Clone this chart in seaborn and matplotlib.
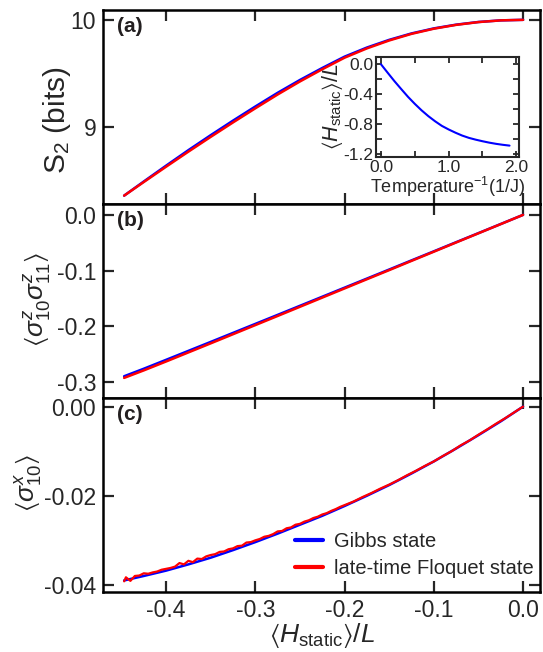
import numpy as np
import pandas as pd
import matplotlib
matplotlib.use("Agg")
import matplotlib.pyplot as plt
from matplotlib.ticker import FixedLocator
import seaborn as sns

# ---- data -------------------------------------------------------------
# energy density grid for the smooth curves
energy = [-0.447, -0.425, -0.400, -0.375, -0.350, -0.325, -0.300, -0.275,
          -0.250, -0.225, -0.200, -0.175, -0.150, -0.125, -0.100, -0.075,
          -0.050, -0.025, 0.000]

# (a) second Renyi entropy of half chain
s2_gibbs = [8.357, 8.489, 8.637, 8.782, 8.922, 9.058, 9.190, 9.318, 9.438,
            9.550, 9.656, 9.741, 9.813, 9.873, 9.920, 9.955, 9.980, 9.995,
            10.000]
s2_floquet = [8.357, 8.484, 8.627, 8.768, 8.906, 9.041, 9.173, 9.302, 9.424,
              9.538, 9.646, 9.733, 9.807, 9.869, 9.917, 9.953, 9.979, 9.995,
              10.000]

# (b) nearest-neighbour zz correlator
zz_gibbs = [-0.2900, -0.2765, -0.2605, -0.2444, -0.2283, -0.2121, -0.1959,
            -0.1797, -0.1634, -0.1471, -0.1308, -0.1145, -0.0982, -0.0818,
            -0.0655, -0.0491, -0.0328, -0.0164, 0.0000]
zz_floquet = [-0.2930, -0.2795, -0.2635, -0.2472, -0.2309, -0.2145, -0.1981,
              -0.1817, -0.1652, -0.1487, -0.1322, -0.1157, -0.0993, -0.0827,
              -0.0662, -0.0496, -0.0331, -0.0166, 0.0000]

# (c) transverse magnetisation
x_gibbs = [-0.0390, -0.0380, -0.0368, -0.0354, -0.0339, -0.0322, -0.0304,
           -0.0285, -0.0265, -0.0245, -0.0223, -0.0200, -0.0176, -0.0150,
           -0.0123, -0.0094, -0.0064, -0.0033, 0.0000]

energy_fl = [-0.447, -0.445, -0.440, -0.435, -0.430, -0.425, -0.420, -0.415,
             -0.410, -0.405, -0.400, -0.395, -0.390, -0.385, -0.380, -0.375,
             -0.370, -0.365, -0.360, -0.355, -0.350, -0.345, -0.340, -0.335,
             -0.330, -0.325, -0.320, -0.315, -0.310, -0.305, -0.300, -0.295,
             -0.290, -0.285, -0.280, -0.275, -0.270, -0.265, -0.260, -0.255,
             -0.250, -0.245, -0.240, -0.235, -0.230, -0.225, -0.220, -0.215,
             -0.210, -0.205, -0.200, -0.190, -0.180, -0.170, -0.160, -0.150,
             -0.140, -0.130, -0.120, -0.110, -0.100, -0.090, -0.080, -0.070,
             -0.060, -0.050, -0.040, -0.030, -0.020, -0.010, 0.000]
x_floquet = [-0.0392, -0.0383, -0.0391, -0.0380, -0.0379, -0.0374, -0.0375,
             -0.0372, -0.0370, -0.0366, -0.0364, -0.0362, -0.0359, -0.0351,
             -0.0354, -0.0346, -0.0349, -0.0341, -0.0342, -0.0336, -0.0333,
             -0.0331, -0.0326, -0.0325, -0.0320, -0.0318, -0.0313, -0.0312,
             -0.0305, -0.0304, -0.0300, -0.0297, -0.0292, -0.0290, -0.0286,
             -0.0280, -0.0279, -0.0273, -0.0271, -0.0265, -0.0263, -0.0258,
             -0.0255, -0.0250, -0.0247, -0.0242, -0.0239, -0.0234, -0.0230,
             -0.0225, -0.0221, -0.0213, -0.0203, -0.0194, -0.0184, -0.0175,
             -0.0165, -0.0154, -0.0144, -0.0133, -0.0123, -0.0111, -0.0100,
             -0.0087, -0.0076, -0.0063, -0.0051, -0.0038, -0.0026, -0.0013,
             0.0000]

# inset: energy density versus inverse temperature
beta = [0.0, 0.1, 0.2, 0.3, 0.4, 0.5, 0.6, 0.7, 0.8, 0.9, 1.0, 1.1, 1.2,
        1.3, 1.4, 1.5, 1.6, 1.7, 1.8, 1.9]
energy_beta = [0.000, -0.115, -0.228, -0.334, -0.438, -0.532, -0.619, -0.697,
               -0.766, -0.828, -0.876, -0.919, -0.958, -0.989, -1.013, -1.034,
               -1.053, -1.069, -1.082, -1.093]

x_ticks = [-0.4, -0.3, -0.2, -0.1, 0.0]
x_ticklabels = ["-0.4", "-0.3", "-0.2", "-0.1", "0.0"]

# ---- style ------------------------------------------------------------
sns.set_style("ticks")
plt.rcParams["font.family"] = ["Liberation Sans", "DejaVu Sans"]
plt.rcParams["mathtext.fontset"] = "custom"
plt.rcParams["mathtext.rm"] = "Liberation Sans"
plt.rcParams["mathtext.it"] = "Liberation Sans:italic"
plt.rcParams["mathtext.bf"] = "Liberation Sans:bold"
plt.rcParams["mathtext.fallback"] = "stixsans"
plt.rcParams["axes.unicode_minus"] = False

BLUE = "#0000ff"
RED = "#ff0000"
LW = 1.8

fig, axes = plt.subplots(3, 1, sharex=True, figsize=(5.43, 6.52), dpi=100,
                         gridspec_kw=dict(hspace=0))
fig.subplots_adjust(left=0.19, right=0.9945, top=0.985, bottom=0.092)
ax_a, ax_b, ax_c = axes

df = pd.DataFrame(dict(E=energy, s2g=s2_gibbs, s2f=s2_floquet,
                       zzg=zz_gibbs, zzf=zz_floquet, xg=x_gibbs))
df_fl = pd.DataFrame(dict(E=energy_fl, xf=x_floquet))
df_in = pd.DataFrame(dict(beta=beta, E=energy_beta))

sns.lineplot(data=df, x="E", y="s2g", ax=ax_a, color=BLUE, lw=LW, legend=False)
sns.lineplot(data=df, x="E", y="s2f", ax=ax_a, color=RED, lw=LW, legend=False)
sns.lineplot(data=df, x="E", y="zzg", ax=ax_b, color=BLUE, lw=LW, legend=False)
sns.lineplot(data=df, x="E", y="zzf", ax=ax_b, color=RED, lw=LW, legend=False)
sns.lineplot(data=df, x="E", y="xg", ax=ax_c, color=BLUE, lw=LW,
             label="Gibbs state")
sns.lineplot(data=df_fl, x="E", y="xf", ax=ax_c, color=RED, lw=1.6,
             label="late-time Floquet state")

for ax in axes:
    ax.tick_params(which="both", direction="in", top=True, right=True,
                   length=8, width=1.6, labelsize=16.5, pad=5)
    for sp in ax.spines.values():
        sp.set_linewidth(1.8)
        sp.set_color("black")
    ax.set_xlim(-0.4705, 0.019)
    ax.set_xlabel("")

ax_c.set_xticks(x_ticks)
ax_c.set_xticklabels(x_ticklabels)

ax_a.set_ylim(8.28, 10.094)
ax_a.set_yticks([9, 10])
ax_a.set_yticklabels(["9", "10"])
ax_a.set_ylabel("S$_2$ (bits)", fontsize=21.5)
ax_a.yaxis.set_label_coords(-0.068, 0.43)

ax_b.set_ylim(-0.329, 0.0198)
ax_b.set_yticks([0.0, -0.1, -0.2, -0.3])
ax_b.set_yticklabels(["0.0", "-0.1", "-0.2", "-0.3"])
ax_b.set_ylabel(r"$\langle\sigma_{10}^{z}\sigma_{11}^{z}\rangle$", fontsize=19)
ax_b.yaxis.set_label_coords(-0.115, 0.51)

ax_c.set_ylim(-0.0416, 0.00195)
ax_c.set_yticks([0.0, -0.02, -0.04])
ax_c.set_yticklabels(["0.00", "-0.02", "-0.04"])
ax_c.set_ylabel(r"$\langle\sigma_{10}^{x}\rangle$", fontsize=19)
ax_c.yaxis.set_label_coords(-0.135, 0.56)
ax_c.set_xlabel(r"$\langle H_{\mathrm{static}}\rangle / L$", fontsize=19,
                labelpad=-0.5)

for ax, tag in zip(axes, ["(a)", "(b)", "(c)"]):
    ax.text(0.032, 0.915, tag, transform=ax.transAxes, fontsize=15,
            fontweight="bold", color="#231f20", va="center", ha="left")

ax_c.legend(loc="lower left", bbox_to_anchor=(0.42, 0.03), frameon=False,
            fontsize=14.5, handlelength=1.4, handletextpad=0.55,
            labelspacing=0.4, borderaxespad=0)
for line in ax_c.get_legend().get_lines():
    line.set_linewidth(3)

# inset
ins = fig.add_axes([0.6924, 0.7592, 0.2634, 0.1534])
sns.lineplot(data=df_in, x="beta", y="E", ax=ins, color=BLUE, lw=1.5,
             legend=False)
ins.set_xlim(-0.074, 2.04)
ins.set_ylim(-1.246, 0.098)
ins.set_xticks([0, 1, 2])
ins.set_xticklabels(["0.0", "1.0", "2.0"])
ins.xaxis.set_minor_locator(FixedLocator([0.5, 1.5]))
ins.set_yticks([0.0, -0.4, -0.8, -1.2])
ins.set_yticklabels(["0.0", "-0.4", "-0.8", "-1.2"])
ins.yaxis.set_minor_locator(FixedLocator([-0.2, -0.6, -1.0]))
ins.tick_params(which="both", direction="in", top=True, right=True,
                length=4, width=1.3, labelsize=12.5, pad=2)
for sp in ins.spines.values():
    sp.set_linewidth(1.5)
ins.set_xlabel("Temperature$^{-1}$(1/J)", fontsize=13, labelpad=0)
ins.set_ylabel(r"$\langle H_{\mathrm{static}}\rangle/L$", fontsize=15.5,
               labelpad=-1)

fig.savefig("out.png", dpi=100)
